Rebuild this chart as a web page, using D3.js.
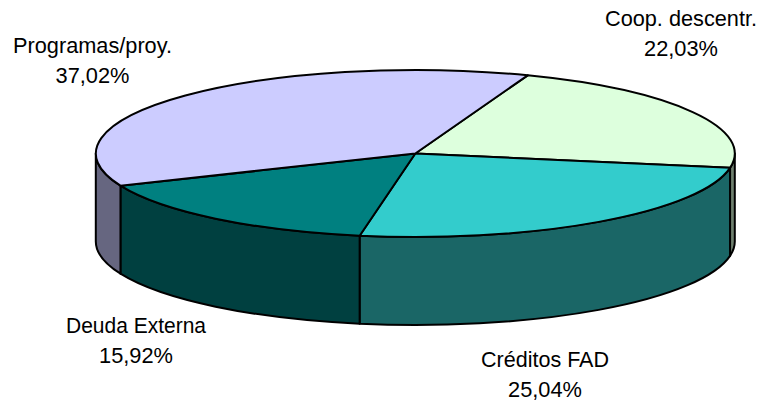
<!DOCTYPE html>
<meta charset="utf-8">
<script src="https://d3js.org/d3.v7.min.js"></script>
<style>
  html, body { margin: 0; background: #fff; }
  svg { display: block; }
  .rim, .top { stroke: #000; stroke-width: 2px; stroke-linejoin: round; }
  .top { vector-effect: non-scaling-stroke; }
  .lbl { font: 21.8px "Liberation Sans", Arial, sans-serif; fill: #000; text-anchor: middle; }
</style>
<div id="my_dataviz"></div>
<script>
  var categories = ["Coop. descentr.", "Créditos FAD", "Deuda Externa", "Programas/proy."];
  var shares = [22.03, 25.04, 15.92, 37.02];
  var shareLabels = ["22,03%", "25,04%", "15,92%", "37,02%"];
  var topColors = ["#ddffdd", "#33cccc", "#008080", "#ccccff"];
  var rimColors = ["#6f806f", "#1a6666", "#004040", "#666680"];

  // layout of the tilted disc
  var width = 760, height = 405;
  var cx = 415.3, cy = 153.5, rx = 319.5, ry = 83.5, depth = 88;
  var firstAngle = 20.6 * Math.PI / 180;
  var labelX = [681, 545, 136, 92.5];
  var labelY = [26, 367, 333, 53];
  var labelW = [152, 128, 140, 159];
  var lineGap = 30;

  var svg = d3.select("#my_dataviz").append("svg")
    .attr("width", width)
    .attr("height", height);

  var pie = d3.pie().sort(null)
    .startAngle(firstAngle)
    .endAngle(firstAngle + 2 * Math.PI);
  var slices = pie(shares);

  var px = function(a) { return cx + rx * Math.sin(a); };
  var py = function(a) { return cy - ry * Math.cos(a); };

  // only the front half of the disc shows its side
  var rimPath = function(d) {
    var a0 = Math.max(d.startAngle, Math.PI / 2);
    var a1 = Math.min(d.endAngle, 3 * Math.PI / 2);
    if (a1 <= a0) return null;
    return "M" + px(a0) + "," + py(a0)
      + "A" + rx + "," + ry + " 0 0 1 " + px(a1) + "," + py(a1)
      + "L" + px(a1) + "," + (py(a1) + depth)
      + "A" + rx + "," + ry + " 0 0 0 " + px(a0) + "," + (py(a0) + depth)
      + "Z";
  };

  svg.append("g").selectAll("path")
    .data(slices)
    .enter().append("path")
      .attr("class", "rim")
      .attr("d", rimPath)
      .style("fill", function(d, i) { return rimColors[i]; });

  var arc = d3.arc().innerRadius(0).outerRadius(rx);

  svg.append("g")
      .attr("transform", "translate(" + cx + "," + cy + ") scale(1," + (ry / rx) + ")")
    .selectAll("path")
    .data(slices)
    .enter().append("path")
      .attr("class", "top")
      .attr("d", arc)
      .style("fill", function(d, i) { return topColors[i]; });

  var labels = svg.append("g").selectAll("g")
    .data(categories)
    .enter().append("g");
  labels.append("text")
      .attr("class", "lbl")
      .attr("x", function(d, i) { return labelX[i]; })
      .attr("y", function(d, i) { return labelY[i]; })
      .attr("textLength", function(d, i) { return labelW[i]; })
      .attr("lengthAdjust", "spacingAndGlyphs")
      .text(function(d) { return d; });
  labels.append("text")
      .attr("class", "lbl")
      .attr("x", function(d, i) { return labelX[i]; })
      .attr("y", function(d, i) { return labelY[i] + lineGap; })
      .text(function(d, i) { return shareLabels[i]; });
</script>
